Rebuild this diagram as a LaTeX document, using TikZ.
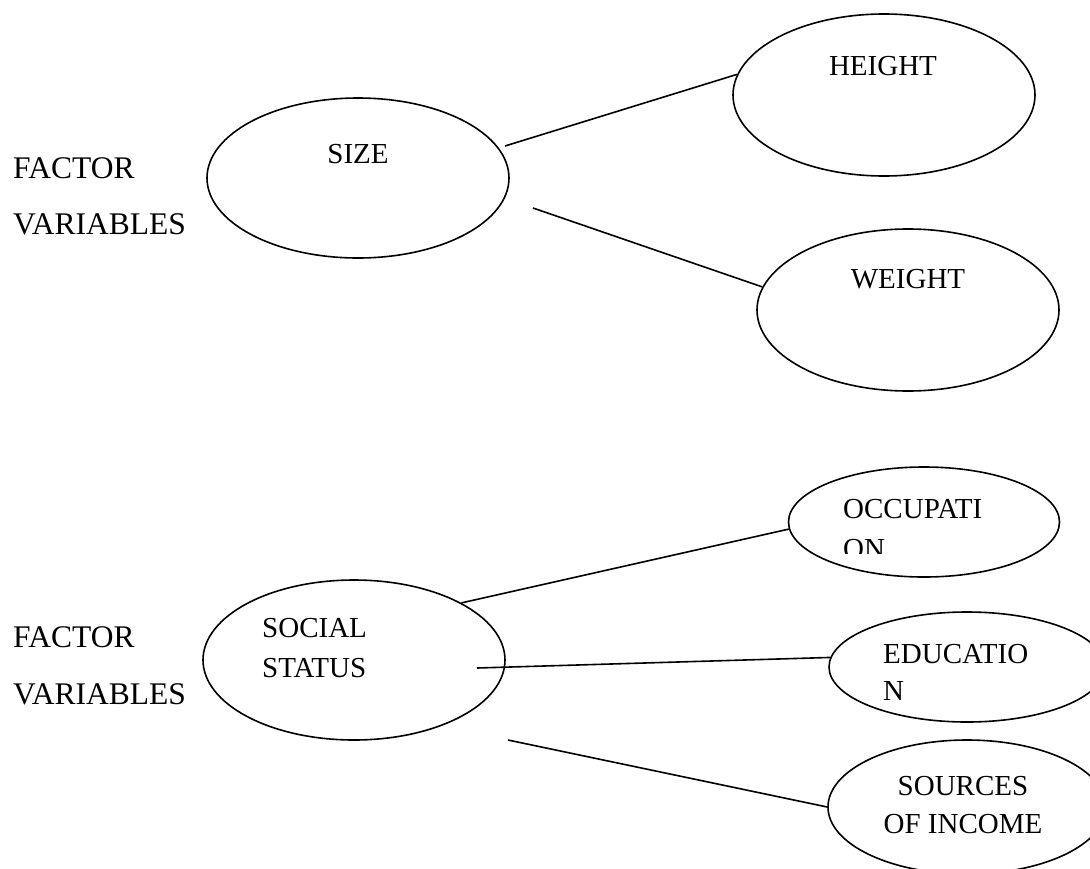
\documentclass[tikz,border=0pt]{standalone}
\usepackage{fontspec}
\setmainfont{Liberation Serif}
\usetikzlibrary{shapes.geometric}
\begin{document}
\begin{tikzpicture}[x=1pt,y=-1pt,
  oval/.style={draw, ellipse, inner sep=0pt, line width=1.6pt},
  lbl/.style={inner sep=0pt, font=\fontsize{29}{35}\selectfont},
  side/.style={inner sep=0pt, anchor=base west, font=\fontsize{31.5}{38}\selectfont},
  link/.style={line width=1.6pt}]
\useasboundingbox (0,0) rectangle (1090,868);
\clip (0,0) rectangle (1090,868);

% left labels
\node[side] (fac1) at (13,178) {FACTOR};
\node[side] (var1) at (13,234) {VARIABLES};
\node[side] (fac2) at (13,647) {FACTOR};
\node[side] (var2) at (13,704) {VARIABLES};

% upper group
\node[oval, minimum width=302pt, minimum height=160pt] (size) at (358,178) {};
\node[oval, minimum width=302pt, minimum height=162pt] (height) at (884,95) {};
\node[oval, minimum width=302pt, minimum height=162pt] (weight) at (908,310) {};
\node[lbl, anchor=base] (tsize) at (358,163) {SIZE};
\node[lbl, anchor=base] (theight) at (883,75) {HEIGHT};
\node[lbl, anchor=base] (tweight) at (908,288) {WEIGHT};

\coordinate (sa) at (505,146);
\coordinate (sb) at (533,208);
\draw[link] (sa) -- (height.172);
\draw[link] (sb) -- (weight.171);

% lower group
\node[oval, minimum width=302pt, minimum height=160pt] (social) at (354,660) {};
\node[oval, minimum width=271pt, minimum height=110pt] (occ) at (924,522) {};
\node[oval, minimum width=276pt, minimum height=110pt] (edu) at (967,667) {};
\node[oval, minimum width=278pt, minimum height=134pt] (src) at (967,807) {};

\node[lbl, anchor=base west] (tsocial) at (262,637) {SOCIAL};
\node[lbl, anchor=base west] (tstatus) at (262,677) {STATUS};
\begin{scope}
  \clip (760,460) rectangle (1070,553);
  \node[lbl, anchor=base west] (tocc1) at (843,518) {OCCUPATI};
  \node[lbl, anchor=base west] (tocc2) at (843,558) {ON};
\end{scope}
\node[lbl, anchor=base west] (tedu1) at (883,663) {EDUCATIO};
\node[lbl, anchor=base west] (tedu2) at (883,700) {N};
\node[lbl, anchor=base] (tsrc1) at (963,795) {SOURCES};
\node[lbl, anchor=base] (tsrc2) at (963,833) {OF INCOME};

\coordinate (sc) at (477,668);
\coordinate (sd) at (508,740);
\draw[link] (social.28) -- (occ.183);
\draw[link] (sc) -- (edu.176);
\draw[link] (sd) -- (src.180);
\end{tikzpicture}
\end{document}
